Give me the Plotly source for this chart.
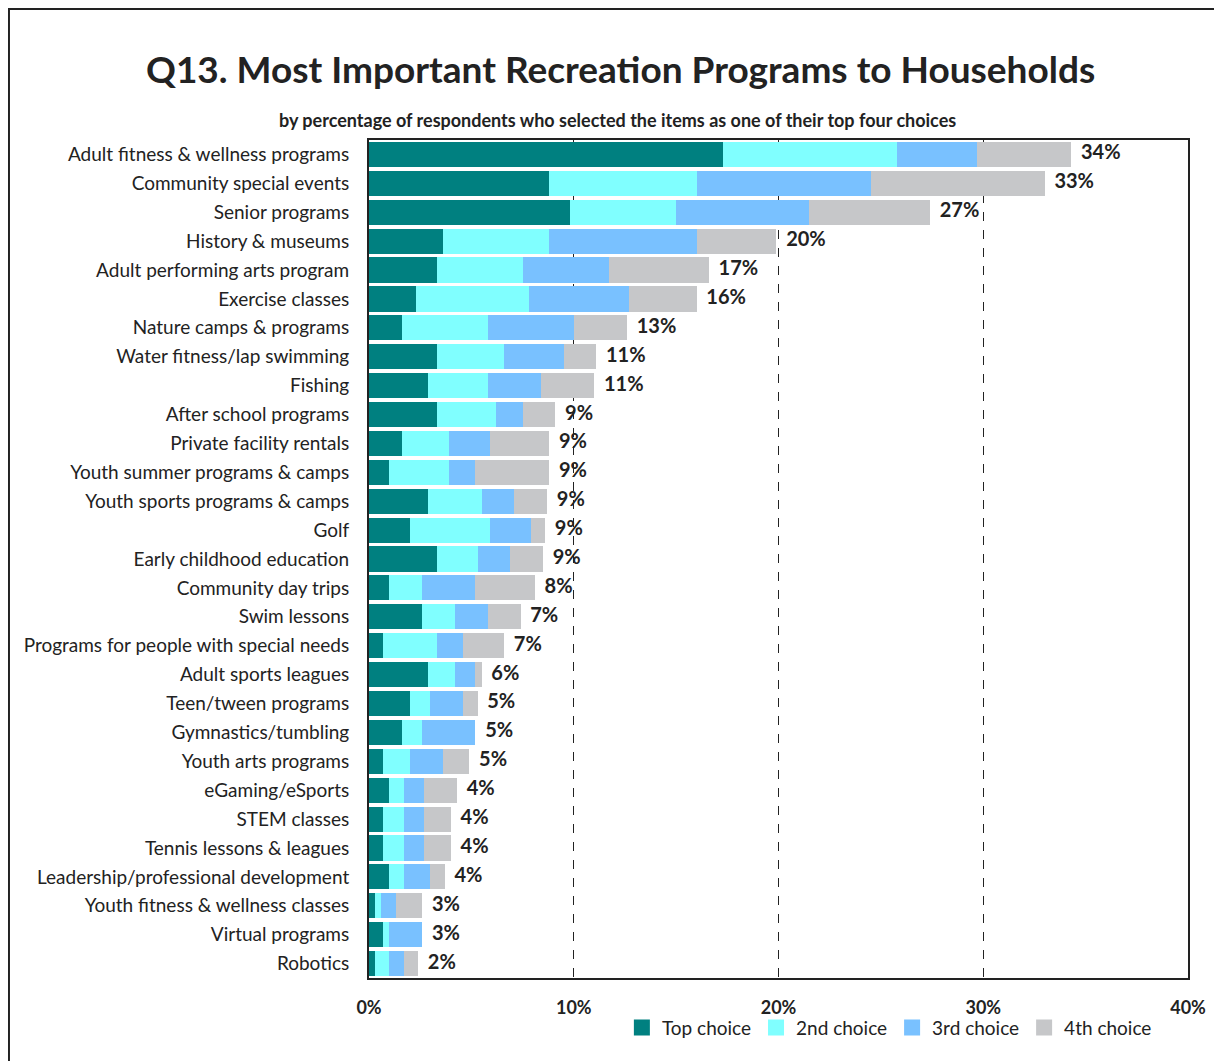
import plotly.graph_objects as go

programs = [
    "Adult fitness & wellness programs", "Community special events", "Senior programs",
    "History & museums", "Adult performing arts program", "Exercise classes",
    "Nature camps & programs", "Water fitness/lap swimming", "Fishing",
    "After school programs", "Private facility rentals", "Youth summer programs & camps",
    "Youth sports programs & camps", "Golf", "Early childhood education",
    "Community day trips", "Swim lessons", "Programs for people with special needs",
    "Adult sports leagues", "Teen/tween programs", "Gymnastics/tumbling",
    "Youth arts programs", "eGaming/eSports", "STEM classes", "Tennis lessons & leagues",
    "Leadership/professional development", "Youth fitness & wellness classes",
    "Virtual programs", "Robotics",
]

top_choice = [17.3, 8.8, 9.8, 3.6, 3.3, 2.3, 1.6, 3.3, 2.9, 3.3, 1.6, 1.0, 2.9, 2.0, 3.3,
              1.0, 2.6, 0.7, 2.9, 2.0, 1.6, 0.7, 1.0, 0.7, 0.7, 1.0, 0.3, 0.7, 0.3]
second_choice = [8.5, 7.2, 5.2, 5.2, 4.2, 5.5, 4.2, 3.3, 2.9, 2.9, 2.3, 2.9, 2.6, 3.9, 2.0,
                 1.6, 1.6, 2.6, 1.3, 1.0, 1.0, 1.3, 0.7, 1.0, 1.0, 0.7, 0.3, 0.3, 0.7]
third_choice = [3.9, 8.5, 6.5, 7.2, 4.2, 4.9, 4.2, 2.9, 2.6, 1.3, 2.0, 1.3, 1.6, 2.0, 1.6,
                2.6, 1.6, 1.3, 1.0, 1.6, 2.6, 1.6, 1.0, 1.0, 1.0, 1.3, 0.7, 1.6, 0.7]
fourth_choice = [4.6, 8.5, 5.9, 3.9, 4.9, 3.3, 2.6, 1.6, 2.6, 1.6, 2.9, 3.6, 1.6, 0.7, 1.6,
                 2.9, 1.6, 2.0, 0.3, 0.7, 0.0, 1.3, 1.6, 1.3, 1.3, 0.7, 1.3, 0.0, 0.7]
total_labels = ["34%", "33%", "27%", "20%", "17%", "16%", "13%", "11%", "11%", "9%", "9%",
                "9%", "9%", "9%", "9%", "8%", "7%", "7%", "6%", "5%", "5%", "5%", "4%",
                "4%", "4%", "4%", "3%", "3%", "2%"]

series = [
    ("Top choice", top_choice, "#008080"),
    ("2nd choice", second_choice, "#80FFFF"),
    ("3rd choice", third_choice, "#79C1FF"),
    ("4th choice", fourth_choice, "#C6C7C9"),
]

fig = go.Figure()
for name, vals, color in series:
    fig.add_trace(go.Bar(y=programs, x=vals, name=name, orientation="h", showlegend=False,
                         marker=dict(color=color, line=dict(width=0))))

# legend entries with larger square swatches
for name, vals, color in series:
    fig.add_trace(go.Scatter(x=[None], y=[None], mode="markers", name=name,
                             marker=dict(symbol="square", size=17, color=color)))

totals = [a + b + c + d for a, b, c, d in zip(top_choice, second_choice, third_choice, fourth_choice)]
fig.add_trace(go.Scatter(y=programs, x=totals, text=total_labels, mode="text",
                         texttemplate="  %{text}", textposition="middle right", showlegend=False,
                         textfont=dict(family="Lato", size=20, color="#222222", weight="bold"),
                         cliponaxis=False, hoverinfo="skip"))

fig.update_layout(
    barmode="stack", bargap=0.13,
    width=1214, height=1053,
    margin=dict(l=361, r=34, t=132, b=83),
    plot_bgcolor="white", paper_bgcolor="white",
    font=dict(family="Lato", color="#222222"),
    xaxis=dict(range=[0, 40], tickvals=[0, 10, 20, 30, 40], ticktext=["0%", "10%", "20%", "30%", "40%"],
               tickfont=dict(size=18, weight="bold"), showgrid=True, gridcolor="#222222",
               griddash="dash", gridwidth=1, showline=True, linecolor="#222222", linewidth=2,
               mirror=True, ticks="", ticklabelstandoff=12, zeroline=False),
    yaxis=dict(range=[len(programs) - 0.5, -0.5], tickfont=dict(size=19), showline=True,
               linecolor="#222222", linewidth=2, mirror=True, ticks="", ticklabelstandoff=14),
    legend=dict(orientation="h", x=0.962, xanchor="right", y=-0.082, yanchor="bottom",
                font=dict(size=19), traceorder="normal", itemwidth=30, tracegroupgap=0,
                bgcolor="rgba(0,0,0,0)"),
    showlegend=True,
    annotations=[
        dict(text="<b>Q13. Most Important Recreation Programs to Households</b>", xref="paper", yref="paper",
             x=(612 - 361) / 819, y=1.0855, xanchor="center", yanchor="middle", showarrow=False,
             font=dict(size=37, family="Lato", color="#222222")),
        dict(text="<b>by percentage of respondents who selected the items as one of their top four choices</b>",
             xref="paper", yref="paper", x=(609 - 361) / 819, y=1.024, xanchor="center", yanchor="middle",
             showarrow=False, font=dict(size=18, family="Lato", color="#222222")),
    ],
    shapes=[dict(type="rect", xref="paper", yref="paper", x0=-0.4396, x1=1.06, y0=-0.12, y1=1.1563,
                 line=dict(color="#222222", width=2), fillcolor="rgba(0,0,0,0)")],
)

fig.write_html("out.html")
